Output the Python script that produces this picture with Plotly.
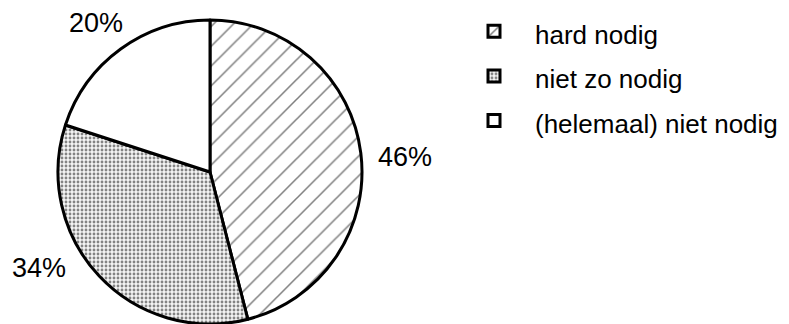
import plotly.graph_objects as go

categories = ["hard nodig", "niet zo nodig", "(helemaal) niet nodig"]
values = [46, 34, 20]

W, H = 789, 324
cx, cy, r = 210, 172, 152  # pie centre / radius in px

legend_labels = [f"<span style='font-size:26px'>{c}</span>" for c in categories]

fig = go.Figure()
fig.add_trace(go.Pie(
    labels=legend_labels,
    values=values,
    sort=False,
    direction="clockwise",
    rotation=0,
    textinfo="none",
    hoverinfo="label+percent",
    marker=dict(
        colors=["white", "#bdbdbd", "white"],
        line=dict(color="black", width=3),
        pattern=dict(
            shape=["/", ".", ""],
            fgcolor=["black", "#111111", "black"],
            bgcolor=["white", "#f4f4f4", "white"],
            size=[14, 4, 8],
            solidity=[0.11, 0.4, 0.1],
            fillmode="overlay",
        ),
    ),
    domain=dict(x=[(cx - r) / W, (cx + r) / W], y=[(H - cy - r) / H, (H - cy + r) / H]),
))

# percentage labels
label_pos = [(405, 157), (39, 268), (96, 23)]
for v, (lx, ly) in zip(values, label_pos):
    fig.add_annotation(x=lx / W, y=1 - ly / H, xref="paper", yref="paper",
                       xanchor="center", yanchor="middle",
                       text=f"{v}%", showarrow=False,
                       font=dict(size=27, color="black", family="Liberation Sans, Arial"))

fig.update_layout(
    width=W, height=H,
    margin=dict(l=0, r=0, t=0, b=0),
    paper_bgcolor="white",
    plot_bgcolor="white",
    font=dict(family="Liberation Sans, Arial", color="black", size=26),
    legend=dict(x=453 / W, y=1 - 4 / H, xanchor="left", yanchor="top",
                itemwidth=72,
                font=dict(size=32), bgcolor="rgba(0,0,0,0)"),
)

fig.write_html("out.html")
